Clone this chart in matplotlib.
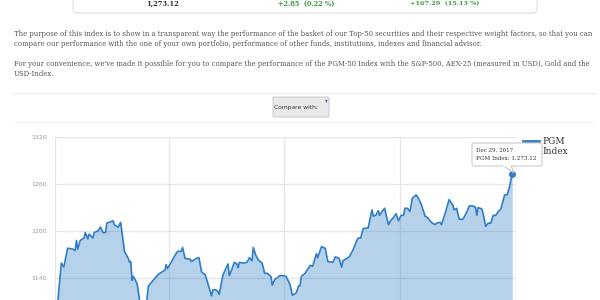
import matplotlib
matplotlib.use('Agg')
import matplotlib.pyplot as plt
import matplotlib.dates as mdates
from matplotlib.patches import FancyBboxPatch, Polygon
from matplotlib.lines import Line2D
from matplotlib.transforms import IdentityTransform
import pandas as pd

W, H = 600, 300

# PGM-50 index, 2017 (day offset from Jan 1, closing value)
days = [2, 5, 7, 10, 14, 16, 17, 18, 20, 23, 24, 26, 27, 30, 31, 34, 36, 38, 40, 41,
        46, 47, 50, 52, 55, 58, 59, 60, 61, 62, 65, 67, 69, 72, 74, 82, 87, 88, 89, 92,
        94, 97, 100, 101, 103, 107, 108, 112, 114, 116, 119, 121, 124, 125, 127, 129, 130, 133, 137, 138,
        140, 142, 144, 145, 146, 149, 152, 154, 156, 157, 159, 161, 164, 166, 168, 171, 172, 174, 178, 181,
        183, 186, 188, 191, 193, 194, 195, 198, 202, 204, 207, 208, 211, 214, 216, 220, 222, 225, 227, 228,
        233, 236, 239, 240, 242, 244, 248, 250, 251, 252, 254, 256, 257, 259, 261, 262, 264, 266, 268, 270,
        272, 274, 276, 277, 279, 281, 283, 286, 288, 290, 293, 295, 298, 301, 302, 305, 306, 309, 312, 315,
        316, 318, 320, 323, 326, 328, 331, 333, 334, 335, 338, 339, 341, 343, 345, 347, 349, 351, 353, 356,
        358, 360, 362]
values = [1105.83, 1159, 1154, 1178, 1177, 1175, 1188, 1177, 1188, 1191, 1198, 1190, 1196, 1191, 1198, 1200, 1205, 1198, 1198, 1210,
          1213, 1208, 1205, 1211, 1174, 1165, 1160, 1161, 1137, 1142, 1133, 1111, 1100, 1102, 1130, 1145, 1150, 1157, 1152, 1160,
          1166, 1174, 1174, 1179, 1165, 1164, 1161, 1165, 1166, 1148, 1144, 1133, 1117, 1125, 1125, 1123, 1119, 1144, 1158, 1143,
          1151, 1160, 1158, 1153, 1160, 1159, 1160, 1166, 1162, 1179, 1169, 1163, 1159, 1146, 1146, 1142, 1131, 1138, 1143, 1143,
          1142, 1132, 1118, 1121, 1130, 1130, 1142, 1146, 1156, 1155, 1171, 1166, 1180, 1178, 1161, 1160, 1167, 1165, 1154, 1162,
          1167, 1176, 1188, 1191, 1191, 1203, 1204, 1220, 1227, 1219, 1220, 1226, 1220, 1225, 1229, 1222, 1208, 1214, 1217, 1222,
          1213, 1220, 1220, 1229, 1229, 1225, 1242, 1246, 1241, 1234, 1219, 1217, 1211, 1208, 1210, 1211, 1208, 1223, 1240, 1233,
          1227, 1229, 1215, 1215, 1224, 1232, 1232, 1230, 1220, 1230, 1228, 1222, 1206, 1210, 1210, 1220, 1220, 1225, 1228, 1246,
          1246, 1257, 1273.12]
yticks = [1140, 1200, 1260, 1320]

header = ['1,273.12', '+2.85  (0.22 %)', '+167.29  (15.13 %)']
para = [
    "The purpose of this index is to show in a transparent way the performance of the basket of our Top-50 securities and their respective weight factors, so that you can",
    "compare our performance with the one of your own portfolio, performance of other funds, institutions, indexes and financial advisor.",
    "For your convenience, we've made it possible for you to compare the performance of the PGM-50 Index with the S&P-500, AEX-25 (measured in USD), Gold and the",
    "USD-Index.",
]

blue = '#2f7ec5'
fig = plt.figure(figsize=(W / 100, H / 100), dpi=100)
renderer = fig.canvas.get_renderer()
pix = IdentityTransform()


def px(x, y):
    return x / W, 1 - y / H


def put(x, y, s, width=None, size=6, **kw):
    t = fig.text(*px(x, y), s, fontsize=size, **kw)
    if width:
        # a few passes, text width is not quite linear in font size
        for _ in range(4):
            w = t.get_window_extent(renderer).width
            t.set_fontsize(t.get_fontsize() * width / w)
    return t


def box(x0, y0, x1, y1, r, **kw):
    p = FancyBboxPatch((x0, H - y1), x1 - x0, y1 - y0,
                       boxstyle=f"round,pad=0,rounding_size={r}", transform=pix, **kw)
    fig.add_artist(p)
    return p


# header box with the numbers
box(73, -30, 537, 13, 4, fc='white', ec='#dddddd', lw=0.8)
put(163, 4, header[0], width=33, ha='center', va='center', family='DejaVu Serif',
    weight='bold', color='#333333')
put(306, 4, header[1], width=58, ha='center', va='center', family='DejaVu Serif',
    weight='bold', color='#3c9a3c')
put(445, 4, header[2], width=69, ha='center', va='center', family='DejaVu Serif',
    weight='bold', color='#3c9a3c')

# paragraphs
t0 = put(14, 34, para[0], width=578, va='center', family='DejaVu Serif', color='#555555')
fs = t0.get_fontsize()
for line, y in zip(para[1:], [44, 64, 74.5]):
    put(14, y, line, size=fs, va='center', family='DejaVu Serif', color='#555555')

# separators
fig.add_artist(Line2D([13 / W, 595 / W], [1 - 93 / H] * 2, color='#eeeeee', lw=1))
fig.add_artist(Line2D([15 / W, 593 / W], [1 - 122 / H] * 2, color='#f0f0f0', lw=1))

# compare button
box(273, 97, 329, 117, 1.5, fc='#e9e9e9', ec='#cfcfcf', lw=0.8)
put(296, 107.5, 'Compare with:', width=44, ha='center', va='center', color='#333333')
put(326, 101, '\u25be', size=4, ha='center', va='center', color='#3a6fc0')

# chart
ax = fig.add_axes([55 / W, 0, 461 / W, 163 / H])
dates = pd.Timestamp('2017-01-01') + pd.to_timedelta(days, unit='D')
ax.fill_between(dates, values, 1000, color=blue, alpha=0.35, lw=0)
ax.plot(dates, values, color=blue, lw=1.2)
ax.plot(dates[-1:], values[-1:], 'o', ms=4, color=blue)
ax.set_xlim(pd.Timestamp('2017-01-01'), pd.Timestamp('2018-01-01'))
ax.set_ylim(1320 - 163 * 60 / 47, 1320)
ax.set_yticks(yticks)
ax.xaxis.set_major_locator(mdates.MonthLocator(bymonth=[1, 4, 7, 10]))
ax.grid(True, color='#e6e6e6', lw=1)
ax.set_axisbelow(True)
ax.tick_params(length=0, labelsize=4.5, labelcolor='#999999', pad=6, labelbottom=False)
for s in ax.spines.values():
    s.set_visible(False)

# legend
fig.add_artist(Line2D([523 / W, 539 / W], [1 - 141 / H] * 2, color=blue, lw=2))
put(542, 141, 'PGM', size=6.5, va='center', family='DejaVu Serif', color='#333333')
put(542, 152, 'Index', size=6.5, va='center', family='DejaVu Serif', color='#333333')

# tooltip on the last point
fig.add_artist(Polygon([[503, H - 165.5], [511, H - 165.5], [514, H - 173]], closed=True,
                       transform=pix, fc='white', ec='#bbbbbb', lw=0.7, zorder=2))
box(472, 143, 542, 166, 2, fc='white', ec='#cccccc', lw=0.8, zorder=2)
fig.add_artist(Line2D([503.6, 510.4], [H - 165.5] * 2, transform=pix, color='white', lw=1.2, zorder=2.5))
last = dates[-1]
put(476, 150, f"{last:%b} {last.day}, {last.year}", width=37, va='center',
    family='DejaVu Serif', color='#333333', zorder=3)
put(476, 158.5, f"PGM Index: {values[-1]:,.2f}", width=61, va='center',
    family='DejaVu Serif', color='#333333', zorder=3)

fig.savefig('out.png', dpi=100)
